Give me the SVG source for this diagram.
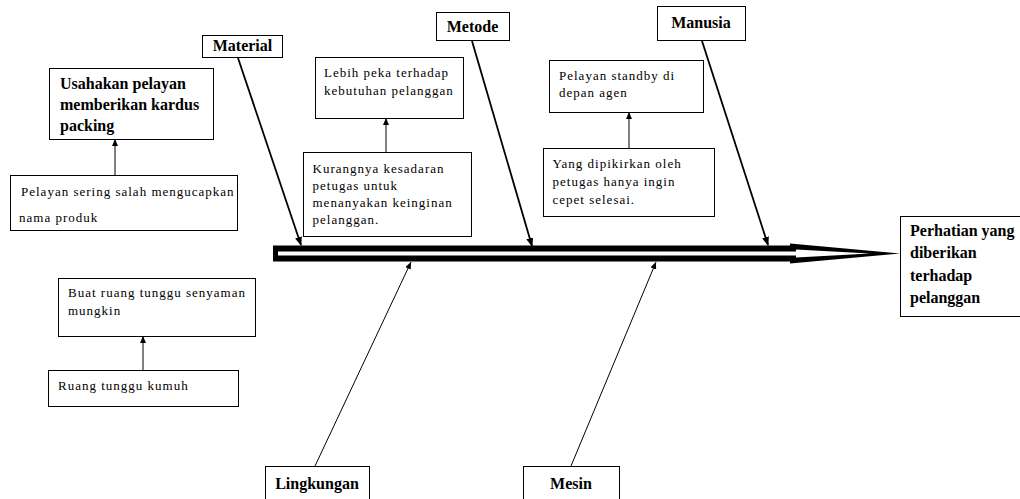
<svg xmlns="http://www.w3.org/2000/svg" width="1020" height="499" viewBox="0 0 1020 499">
<style>
.box{fill:#fff;stroke:#000;stroke-width:1}
.t{font-family:"Liberation Serif","Times New Roman",serif;font-size:13px;letter-spacing:1px;fill:#000}
.b{font-family:"Liberation Serif","Times New Roman",serif;font-size:16px;font-weight:bold;fill:#000}
.c{text-anchor:middle}
.thick{stroke:#000;stroke-width:1.8;fill:none}
.thin{stroke:#000;stroke-width:1;fill:none}
</style>
<defs>
<marker id="ah" markerUnits="userSpaceOnUse" markerWidth="9" markerHeight="7" refX="8" refY="3.5" orient="auto">
<path d="M0,0 L9,3.5 L0,7 z" fill="#000"/>
</marker>
<marker id="as" markerUnits="userSpaceOnUse" markerWidth="7" markerHeight="6" refX="7" refY="3" orient="auto">
<path d="M0,0 L7,3 L0,6 z" fill="#000"/>
</marker>
</defs>
<rect width="1020" height="499" fill="#fff"/>

<g id="spine">
<polygon points="273,245.5 790,245.5 790,243.5 900,253.5 790,263.5 790,261.5 273,261.5" fill="#000"/>
<polygon points="278,251.5 796,251.5 796,249.5 870,253.5 796,257.5 796,255.5 278,255.5" fill="#fff"/>
</g>

<g id="connectors">
<line class="thick" x1="238" y1="58" x2="301" y2="245" marker-end="url(#ah)"/>
<line class="thick" x1="472" y1="41" x2="532" y2="246" marker-end="url(#ah)"/>
<line class="thick" x1="702" y1="41" x2="768" y2="245" marker-end="url(#ah)"/>
<line class="thin" x1="315" y1="466" x2="411" y2="262" marker-end="url(#as)"/>
<line class="thin" x1="571" y1="466" x2="656" y2="262" marker-end="url(#as)"/>
<line class="thin" x1="115" y1="175" x2="115" y2="139" marker-end="url(#as)"/>
<line class="thin" x1="386" y1="152" x2="386" y2="118" marker-end="url(#as)"/>
<line class="thin" x1="629" y1="148" x2="629" y2="112" marker-end="url(#as)"/>
<line class="thin" x1="143" y1="370" x2="143" y2="336" marker-end="url(#as)"/>
</g>

<g id="material">
<rect class="box" x="202.5" y="35.5" width="80" height="22"/>
<text class="b c" x="242.5" y="51">Material</text>
</g>
<g id="metode">
<rect class="box" x="436.5" y="12.5" width="73" height="28"/>
<text class="b c" x="472.5" y="32">Metode</text>
</g>
<g id="manusia">
<rect class="box" x="657.5" y="6.5" width="88" height="34"/>
<text class="b c" x="701" y="28">Manusia</text>
</g>
<g id="lingkungan">
<rect class="box" x="265.5" y="466.5" width="104" height="40"/>
<text class="b c" x="317" y="489">Lingkungan</text>
</g>
<g id="mesin">
<rect class="box" x="523.5" y="466.5" width="96" height="40"/>
<text class="b c" x="571" y="489">Mesin</text>
</g>
<g id="effect">
<rect class="box" x="900.5" y="216.5" width="130" height="100"/>
<text class="b" x="910" y="236">Perhatian yang</text>
<text class="b" x="910" y="258">diberikan</text>
<text class="b" x="910" y="280.5">terhadap</text>
<text class="b" x="910" y="302.5">pelanggan</text>
</g>

<g id="usahakan">
<rect class="box" x="49.5" y="68.5" width="164" height="71"/>
<text class="b" x="60" y="89">Usahakan pelayan</text>
<text class="b" x="60" y="110">memberikan kardus</text>
<text class="b" x="60" y="131">packing</text>
</g>
<g id="pelayan-sering">
<rect class="box" x="10.5" y="175.5" width="227" height="55"/>
<text class="t" x="21" y="196">Pelayan sering salah mengucapkan</text>
<text class="t" x="19" y="222">nama produk</text>
</g>
<g id="lebih-peka">
<rect class="box" x="315.5" y="57.5" width="148" height="61"/>
<text class="t" x="324" y="77">Lebih peka terhadap</text>
<text class="t" x="324" y="95">kebutuhan pelanggan</text>
</g>
<g id="kurangnya">
<rect class="box" x="303.5" y="152.5" width="168" height="84"/>
<text class="t" x="312.5" y="172.5">Kurangnya kesadaran</text>
<text class="t" x="312.5" y="189.5">petugas untuk</text>
<text class="t" x="312.5" y="206.5">menanyakan keinginan</text>
<text class="t" x="312.5" y="223.5">pelanggan.</text>
</g>
<g id="standby">
<rect class="box" x="549.5" y="60.5" width="154" height="52"/>
<text class="t" x="559" y="80">Pelayan standby di</text>
<text class="t" x="559" y="97">depan agen</text>
</g>
<g id="dipikirkan">
<rect class="box" x="543.5" y="148.5" width="171" height="68"/>
<text class="t" x="552.5" y="167.5">Yang dipikirkan oleh</text>
<text class="t" x="552.5" y="185.5">petugas hanya ingin</text>
<text class="t" x="552.5" y="203.5">cepet selesai.</text>
</g>
<g id="ruang-tunggu">
<rect class="box" x="58.5" y="278.5" width="197" height="58"/>
<text class="t" x="68" y="297">Buat ruang tunggu senyaman</text>
<text class="t" x="68" y="315">mungkin</text>
</g>
<g id="kumuh">
<rect class="box" x="48.5" y="370.5" width="190" height="36"/>
<text class="t" x="58" y="389.5">Ruang tunggu kumuh</text>
</g>
</svg>
